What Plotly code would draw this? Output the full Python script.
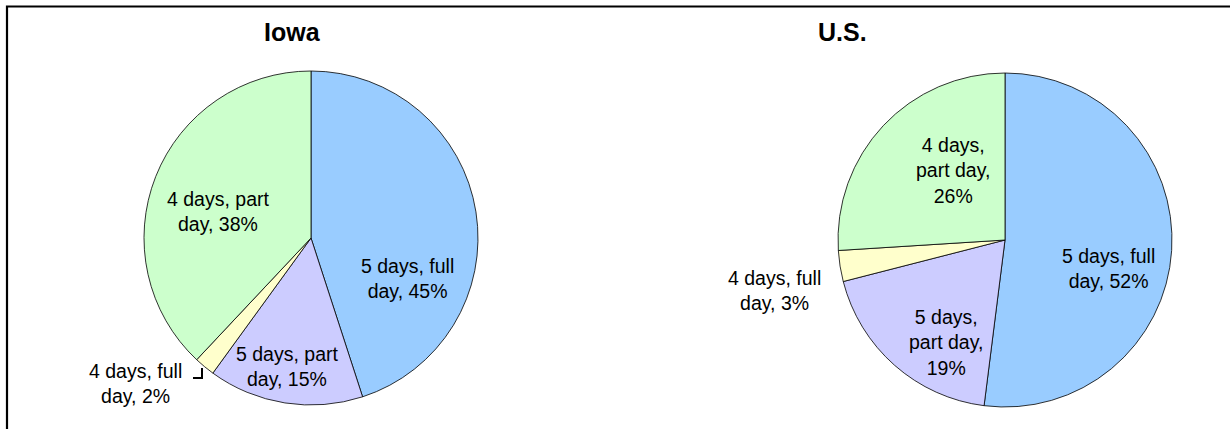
import plotly.graph_objects as go

categories = ["5 days, full day", "5 days, part day", "4 days, full day", "4 days, part day"]
iowa_values = [45, 15, 2, 38]
us_values = [52, 19, 3, 26]
colors = ["#99CCFF", "#CCCCFF", "#FFFFCC", "#CCFFCC"]

# label text with line breaks as shown in the chart
iowa_label_fmt = ["5 days, full<br>day, {}%", "5 days, part<br>day, {}%",
                  "4 days, full<br>day, {}%", "4 days, part<br>day, {}%"]
us_label_fmt = ["5 days, full<br>day, {}%", "5 days,<br>part day,<br>{}%",
                "4 days, full<br>day, {}%", "4 days,<br>part day,<br>{}%"]

W, H = 1230, 429
FONT = "Liberation Sans, Arial, sans-serif"


def px(x):
    return x / W


def py(y):
    return 1 - y / H


fig = go.Figure()
fig.add_trace(go.Pie(
    values=iowa_values, labels=categories, sort=False, direction="clockwise",
    rotation=0, textinfo="none", showlegend=False,
    marker=dict(colors=colors, line=dict(color="#000000", width=0.8)),
    domain=dict(x=[px(144), px(478)], y=[py(405), py(71)]),
))
fig.add_trace(go.Pie(
    values=us_values, labels=categories, sort=False, direction="clockwise",
    rotation=0, textinfo="none", showlegend=False,
    marker=dict(colors=colors, line=dict(color="#000000", width=0.8)),
    domain=dict(x=[px(838), px(1172)], y=[py(407), py(73)]),
))

annotations = []
# titles
for t, x in [("Iowa", 292), ("U.S.", 842)]:
    annotations.append(dict(text="<b>%s</b>" % t, x=px(x), y=py(32), xref="paper", yref="paper",
                            showarrow=False, xanchor="center", yanchor="middle",
                            font=dict(family=FONT, size=25, color="#000000")))

iowa_pos = [(407, 278), (287, 366), (135, 383), (218, 212)]
us_pos = [(1108, 268), (946, 342), (774, 290), (953, 170)]
for fmts, vals, pos in [(iowa_label_fmt, iowa_values, iowa_pos), (us_label_fmt, us_values, us_pos)]:
    for f, v, (x, y) in zip(fmts, vals, pos):
        annotations.append(dict(text=f.format(v), x=px(x), y=py(y), xref="paper", yref="paper",
                                showarrow=False, xanchor="center", yanchor="middle", align="center",
                                font=dict(family=FONT, size=19.5, color="#000000")))

shapes = [
    # outer border (runs off right and bottom edges)
    dict(type="rect", xref="paper", yref="paper", x0=px(7), x1=1.02, y0=-0.02, y1=py(6.5),
         line=dict(color="#000000", width=2.2), fillcolor="rgba(0,0,0,0)"),
    # leader line for the small Iowa slice
    dict(type="path", xref="paper", yref="paper",
         path="M %f %f L %f %f L %f %f" % (px(193), py(378), px(202), py(378), px(202), py(368)),
         line=dict(color="#000000", width=2)),
]

fig.update_layout(
    width=W, height=H, margin=dict(l=0, r=0, t=0, b=0),
    paper_bgcolor="#FFFFFF", plot_bgcolor="#FFFFFF",
    annotations=annotations, shapes=shapes,
    font=dict(family=FONT),
)

fig.write_html("out.html", config={"displayModeBar": False},
               post_script="document.body.style.margin='0';document.body.style.overflow='hidden';")
